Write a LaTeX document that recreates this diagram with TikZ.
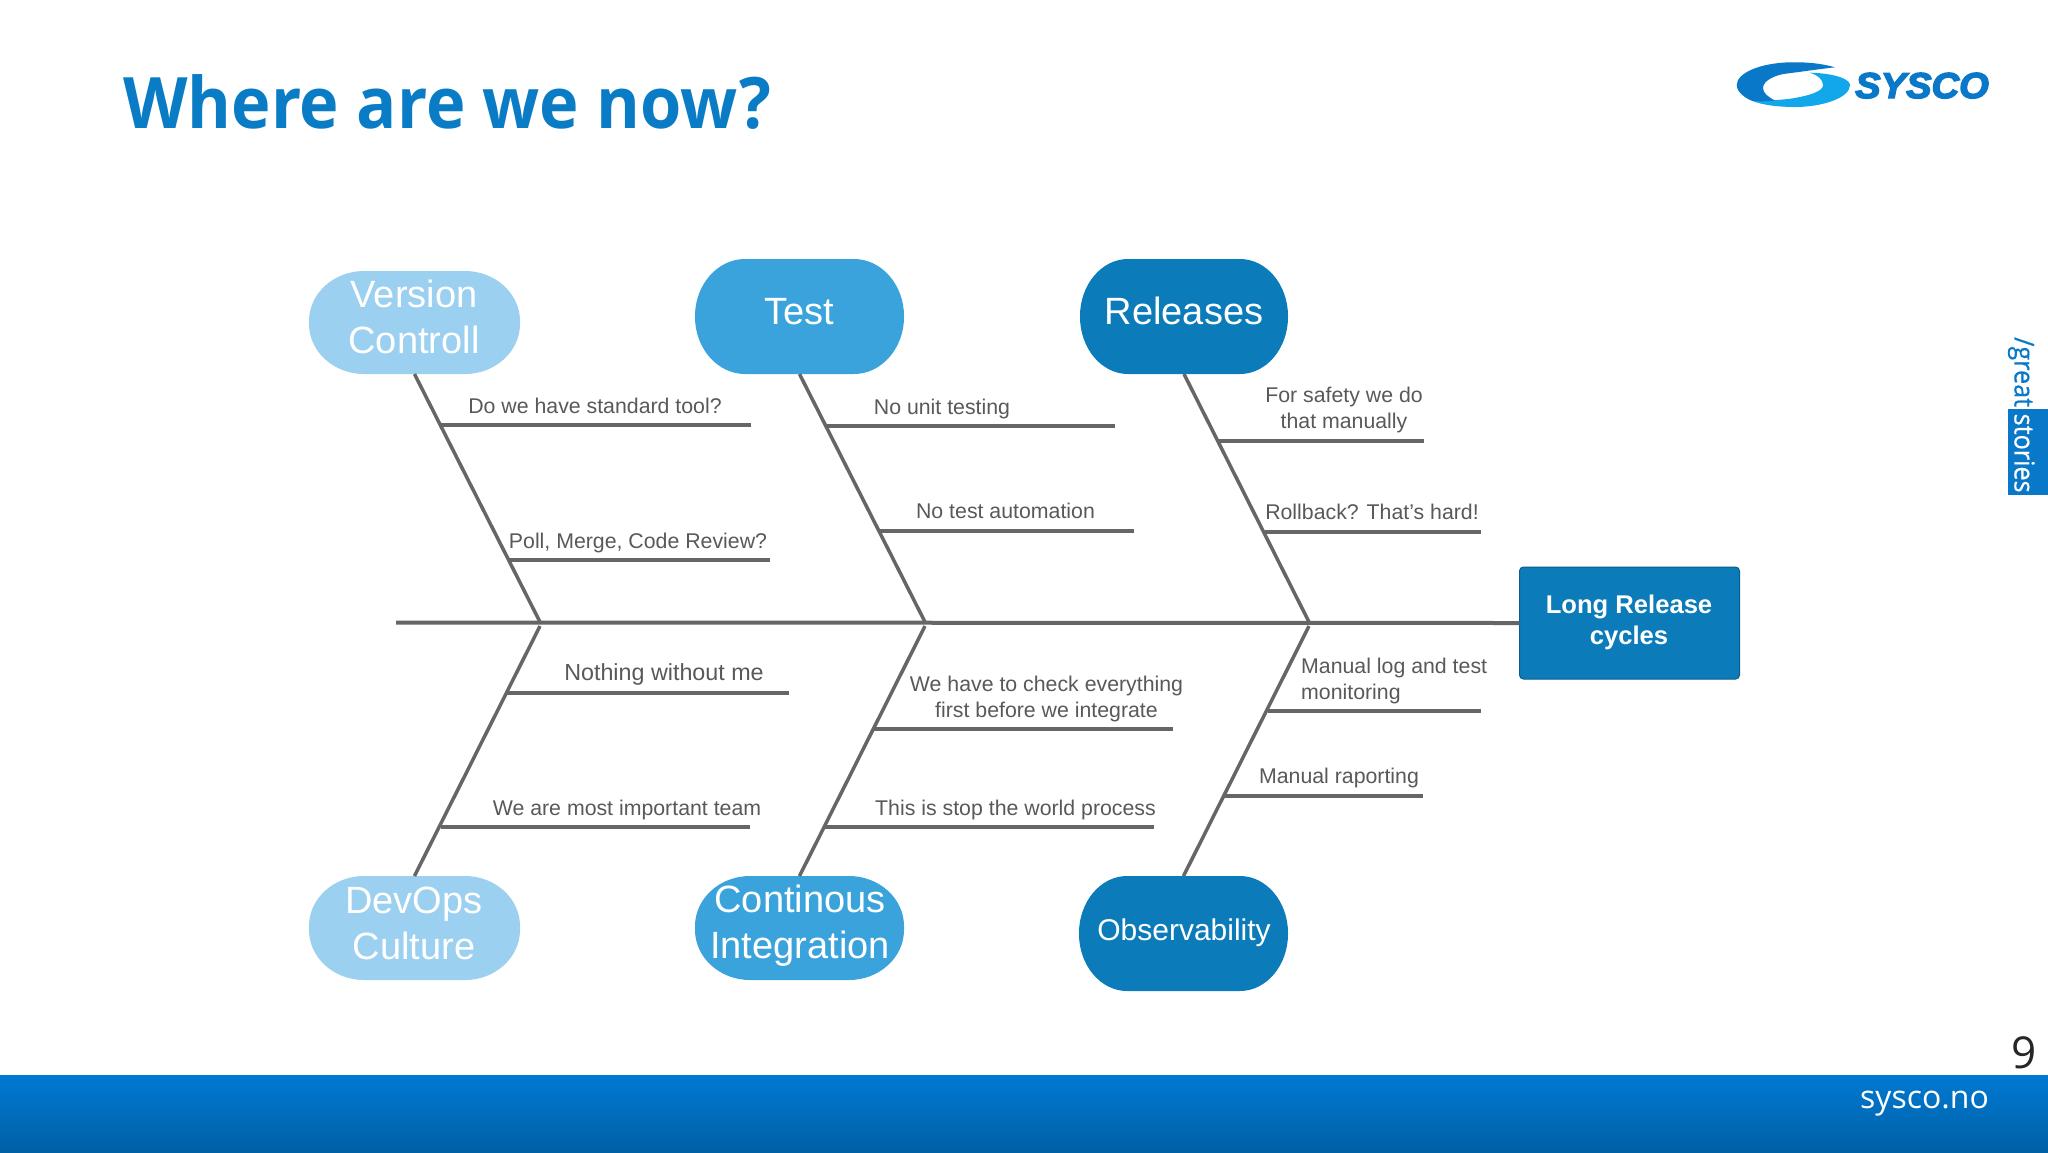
\documentclass[tikz,border=0pt]{standalone}
\usepackage{fontspec}
\setmainfont{Liberation Sans}
\newfontfamily\uifont{Open Sans}
\newfontfamily\titlefont[FakeStretch=0.94]{Open Sans Bold}
\newfontfamily\tabfont[FakeStretch=0.92,FakeBold=0.4]{Open Sans}
\newfontfamily\logofont[FakeBold=4,FakeStretch=1.06]{Liberation Sans Bold Italic}
\usetikzlibrary{calc}
\definecolor{bone}{HTML}{666666}
\definecolor{labelgrey}{HTML}{595959}
\definecolor{palec}{HTML}{9BD0F0}
\definecolor{midc}{HTML}{3AA3DC}
\definecolor{deepc}{HTML}{0C7BBA}
\definecolor{titlec}{HTML}{0A7CC6}
\definecolor{logod}{HTML}{0A78C8}
\definecolor{logol}{HTML}{12A6EA}
\definecolor{barT}{HTML}{0079D2}
\definecolor{barB}{HTML}{0060A6}
\tikzset{
  bonel/.style={draw=bone,line width=3.5pt},
  spinel/.style={draw=bone,line width=4pt},
  lab/.style={inner sep=0pt,anchor=base,text=labelgrey,font=\fontsize{21.3}{26}\selectfont},
  labc/.style={inner sep=0pt,anchor=center,align=center,text=labelgrey,font=\fontsize{21.3}{26}\selectfont},
  pilltxt/.style={inner sep=0pt,anchor=center,align=center,text=white,font=\fontsize{38}{46}\selectfont},
}
% name, x1, y1, x2, y2, colour, rx, ry
\newcommand\pillshape[8]{%
  \fill[#6] ({#2+#7},#3) -- ({#4-#7},#3)
    .. controls ({#4-0.45*#7},#3) and (#4,{#3+0.45*#8}) .. (#4,{#3+#8})
    -- (#4,{#5-#8})
    .. controls (#4,{#5-0.45*#8}) and ({#4-0.45*#7},#5) .. ({#4-#7},#5)
    -- ({#2+#7},#5)
    .. controls ({#2+0.45*#7},#5) and (#2,{#5-0.45*#8}) .. (#2,{#5-#8})
    -- (#2,{#3+#8})
    .. controls (#2,{#3+0.45*#8}) and ({#2+0.45*#7},#3) .. ({#2+#7},#3) -- cycle;
  \node[inner sep=0pt,outer sep=0pt,minimum width={(#4-#2)*1pt},minimum height={(#5-#3)*1pt}] (#1) at ({(#2+#4)/2},{(#3+#5)/2}) {};
}
\begin{document}
\begin{tikzpicture}[x=1pt,y=-1pt]
\useasboundingbox (0,0) rectangle (2048,1152);
\fill[white] (0,0) rectangle (2048,1152);

% title
\node[inner sep=0pt,anchor=base west,text=titlec,font=\titlefont\fontsize{71}{80}\selectfont] (title) at (123,128) {Where are we now?};

% logo
\fill[logol] (1810,72.7) .. controls (1830,73) and (1850,78) .. (1850,85)
  .. controls (1850,98) and (1822,107) .. (1795,107)
  .. controls (1778,107) and (1762,105) .. (1751.7,100.7)
  .. controls (1765,101) and (1782,100) .. (1793,98.3)
  .. controls (1812,95) and (1823,91) .. (1823,85)
  .. controls (1823,79) and (1817,75) .. (1810,72.7) -- cycle;
\fill[logod] (1835,67.3) .. controls (1820,63) and (1805,62) .. (1790,62.3)
  .. controls (1760,63) and (1736.7,73) .. (1736.7,85)
  .. controls (1736.7,92) and (1745,98) .. (1751.7,100.7)
  .. controls (1758,101.5) and (1766,101.5) .. (1775,100.5)
  .. controls (1768,97) and (1763,93) .. (1763,88)
  .. controls (1763,81) and (1774,75) .. (1787,73.5)
  .. controls (1803,71.5) and (1820,69) .. (1835,67.3) -- cycle;
\node[inner sep=0pt,anchor=base west,text=logod,font=\logofont\fontsize{36}{36}\selectfont] (logotext) at (1855,98) {SYSCO};

% side tab
\fill[logod] (2008,409) rectangle (2048,495);
\node[inner sep=0pt,anchor=base west,rotate=-90,text=logod,font=\tabfont\fontsize{27.4}{30}\selectfont] (tabtext) at (2014.5,337) {/great \textcolor{white}{stories}};

% footer
\shade[top color=barT,bottom color=barB] (0,1075) rectangle (2048,1152);
\node[inner sep=0pt,anchor=base west,text=white,font=\uifont\fontsize{32}{36}\selectfont] (site) at (1860,1108) {sysco.no};
\node[inner sep=0pt,anchor=base west,text=black!85,font=\uifont\fontsize{44}{48}\selectfont] (pageno) at (2011,1068) {9};

% nodes
\pillshape{vc}{309}{271}{520}{374}{palec}{55}{50}
\pillshape{test}{695}{259}{904}{374}{midc}{50}{57}
\pillshape{rel}{1080}{259}{1288}{374}{deepc}{48}{57}
\pillshape{dev}{309}{876}{520}{980}{palec}{55}{50}
\pillshape{ci}{695}{876}{904}{980}{midc}{55}{50}
\pillshape{obs}{1079}{876}{1288}{991}{deepc}{48}{57}

\node[inner sep=0pt,outer sep=0pt,fill=deepc,draw=deepc!75!black,line width=1pt,rounded corners=4pt,minimum width=220pt,minimum height=112pt] (effect) at (1629.5,623) {};

\node[pilltxt] (tvc) at (414,317) {Version\\Controll};
\node[pilltxt] (ttest) at (799,312) {Test};
\node[pilltxt] (trel) at (1184,311) {Releases};
\node[pilltxt] (tdev) at (414,923) {DevOps\\Culture};
\node[pilltxt] (tci) at (800,925.5) {Continous\\Integration};
\node[pilltxt,font=\fontsize{30}{36}\selectfont] (tobs) at (1184,932.5) {Observability};
\node[inner sep=0pt,anchor=center,align=center,text=white,font=\bfseries\fontsize{25.6}{31}\selectfont] (teffect) at (1629,622) {Long Release\\cycles};

% apex and tail
\coordinate (tail) at (396,622.5);
\coordinate (a1) at (540,622);
\coordinate (a2) at (925,622);
\coordinate (a3) at (1309,622);
\coordinate (b1) at (540,626);
\coordinate (b2) at (925,626);
\coordinate (b3) at (1309,626);

\draw[spinel] (tail) -- (effect.west);

\draw[bonel] (vc.south) -- (a1);
\draw[bonel] (test.south) -- (a2);
\draw[bonel] (rel.south) -- (a3);
\draw[bonel] (b1) -- (dev.north);
\draw[bonel] (b2) -- (ci.north);
\draw[bonel] (b3) -- (obs.north);

% branches: named free ends
\foreach \nm/\sx/\ex/\yy in {
  v1/441/751/425, v2/508/770/560,
  t1/827/1115/426, t2/879/1134/531,
  r1/1219/1424/441, r2/1265/1481/532,
  d1/507/789/693, d2/441/750/827,
  c1/874/1173/729, c2/825/1154/827,
  o1/1268/1481/711, o2/1224/1423/796}{
  \coordinate (\nm s) at (\sx,\yy);
  \coordinate (\nm e) at (\ex,\yy);
  \draw[bonel] (\nm s) -- (\nm e);
}

% labels
\node[lab] (l1) at (595,413) {Do we have standard tool?};
\node[lab] (l2) at (638,548) {Poll, Merge, Code Review?};
\node[lab] (l3) at (942,414) {No unit testing};
\node[lab] (l4) at (1005.5,518) {No test automation};
\node[labc] (l5) at (1344,410) {For safety we do\\that manually};
\node[lab] (l6) at (1372,519) {Rollback? That's hard!};
\node[lab,font=\fontsize{23.3}{26}\selectfont] (l7) at (664,680) {Nothing without me};
\node[lab] (l8) at (627,815) {We are most important team};
\node[labc] (l9) at (1046.5,699) {We have to check everything\\first before we integrate};
\node[lab] (l10) at (1015.5,815) {This is stop the world process};
\node[labc,align=left,anchor=west] (l11) at (1301,680.5) {Manual log and test\\monitoring};
\node[lab] (l12) at (1339,783) {Manual raporting};
\end{tikzpicture}
\end{document}
